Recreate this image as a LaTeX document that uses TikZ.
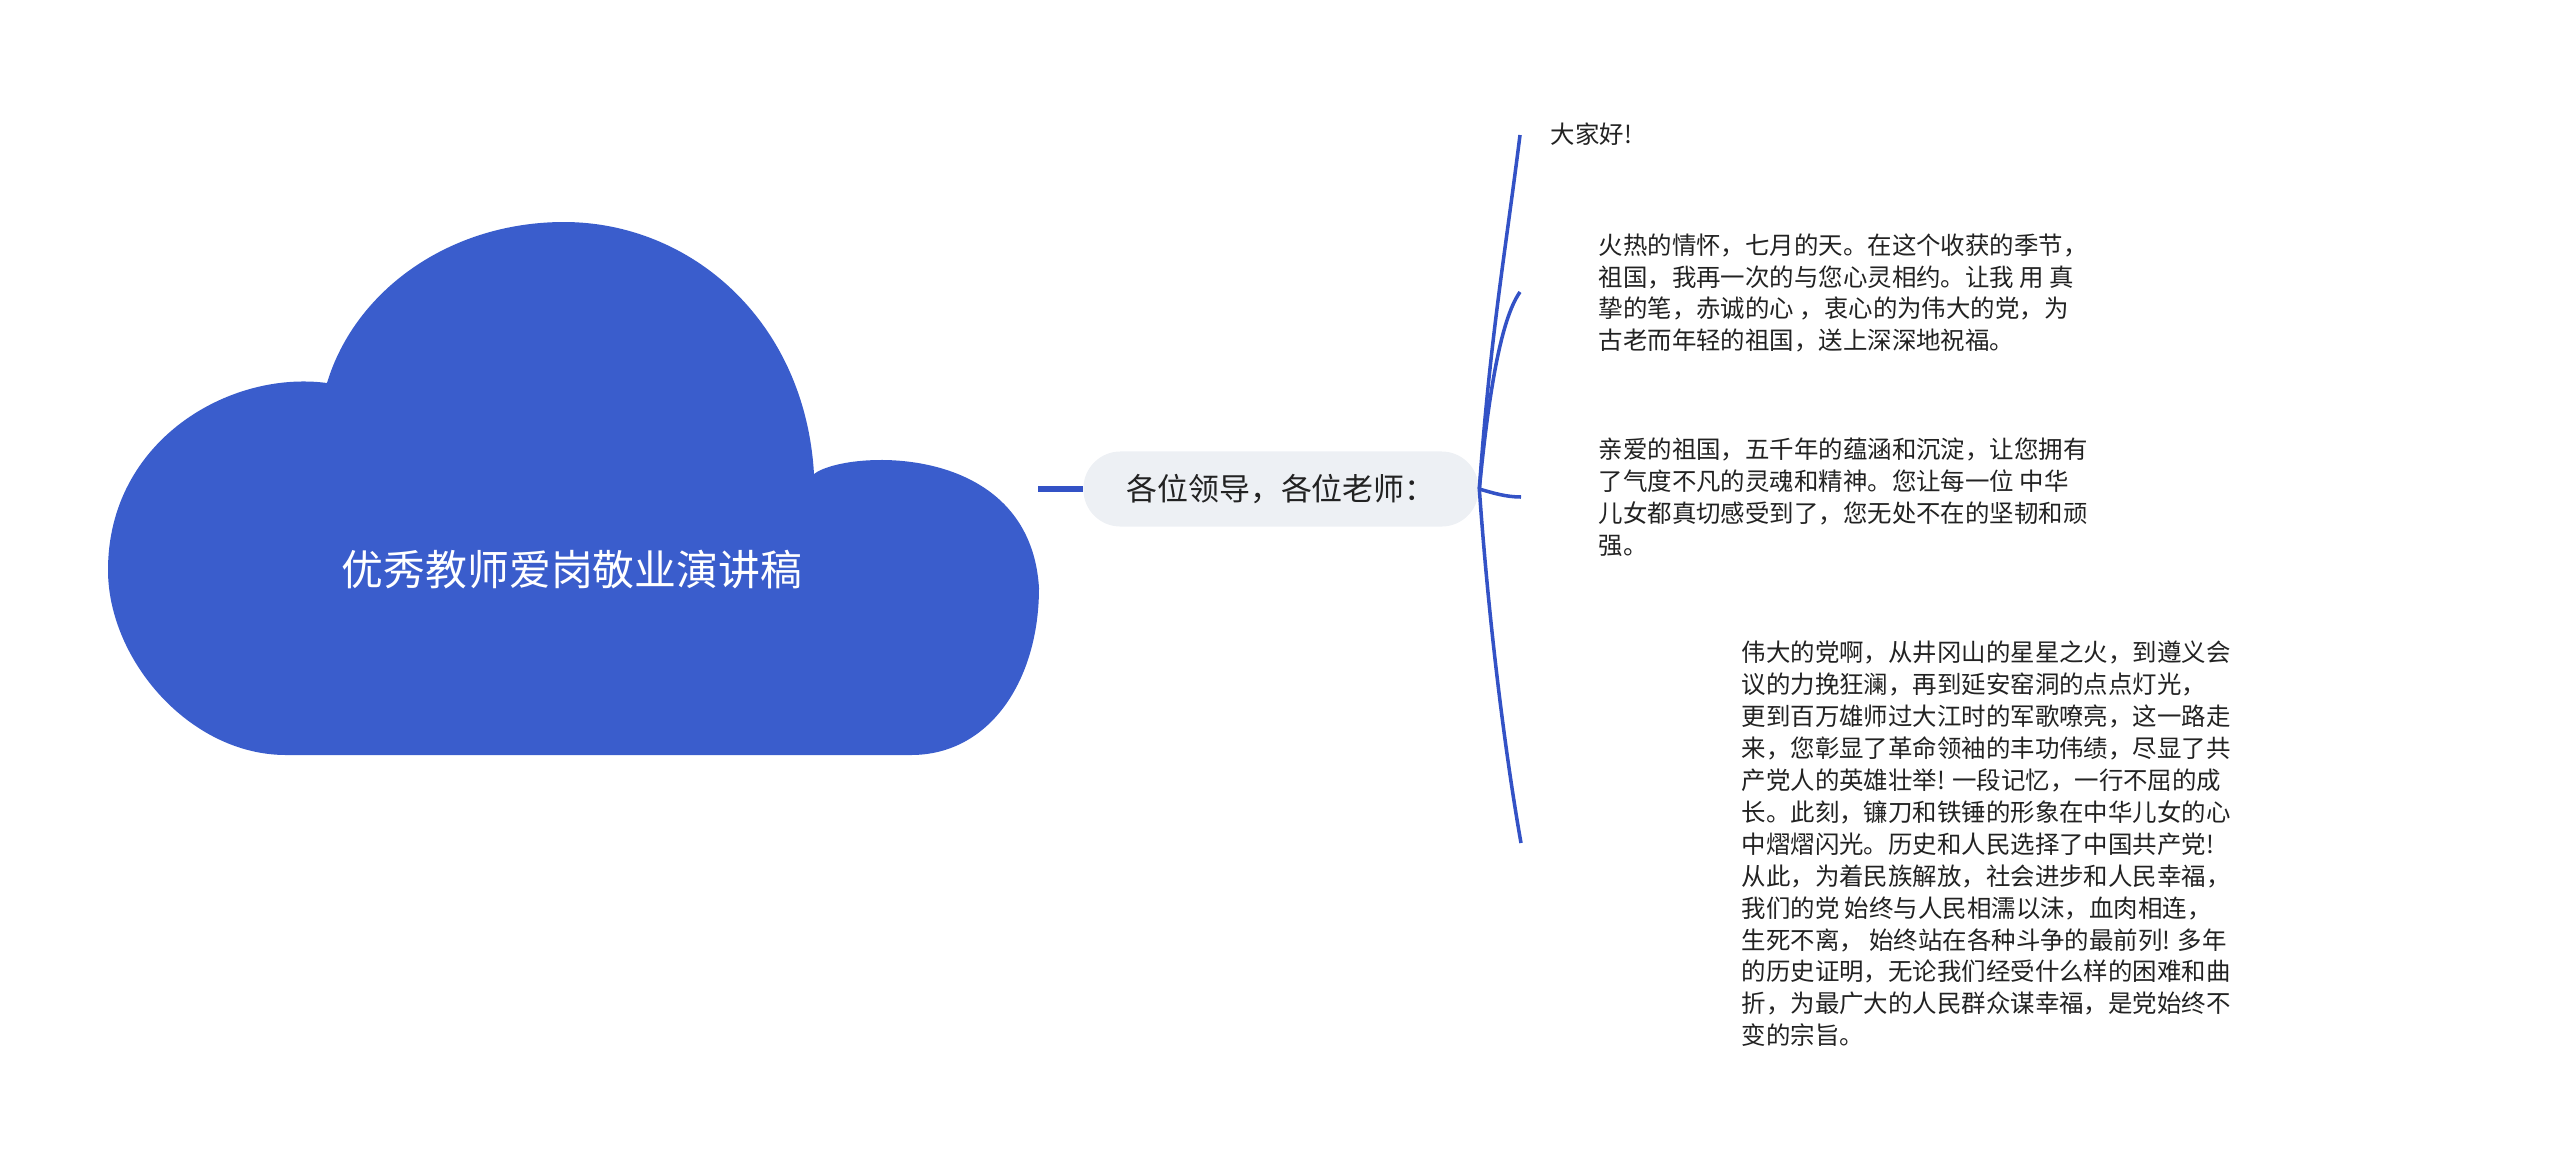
\documentclass[tikz,border=0pt]{standalone}
\usepackage{fontspec}
\newfontfamily\cjk{Noto Sans CJK SC}
\usetikzlibrary{positioning}
\definecolor{cloudblue}{HTML}{3A5DCC}
\definecolor{linkblue}{HTML}{3352C6}
\definecolor{pillgray}{HTML}{EDF0F4}
\definecolor{txt}{HTML}{222222}

\begin{document}
\begin{tikzpicture}[x=0.01cm, y=-0.01cm, every node/.style={font=\cjk},
  para/.style={anchor=west, inner sep=0pt, align=left, text=txt, font=\cjk\fontsize{6.95}{9.07}\selectfont},
  branch/.style={draw=linkblue, line width=1pt}]
\useasboundingbox (0,0) rectangle (2560,1169);
\fill[cloudblue] (327,383) .. controls (355,290) and (450,222) .. (564,222)
  .. controls (690,222) and (805,320) .. (814,474)
  .. controls (845,450) and (1030,440) .. (1039,588)
  .. controls (1039,680) and (990,755) .. (911,755) -- (286,755)
  .. controls (190,755) and (108,660) .. (108,570)
  .. controls (108,440) and (230,370) .. (327,383) -- cycle;
\node[text=white, font=\cjk\fontsize{11.9}{14}\selectfont] (title) at (572,570) {优秀教师爱岗敬业演讲稿};
\coordinate (cloudR) at (1038,489);
\node[fill=pillgray, rounded corners=0.37cm, minimum width=3.95cm, minimum height=0.75cm, text=txt, font=\cjk\fontsize{8.8}{10}\selectfont] (pill) at (1281,489) {各位领导，各位老师：};
\draw[draw=linkblue, line width=1.7pt] (cloudR)--(pill.west);
\node[para] (hello) at (1550,134) {大家好!};
\node[para] (p1) at (1598,293) {火热的情怀，七月的天。在这个收获的季节，\\祖国，我再一次的与您心灵相约。让我 用 真\\挚的笔，赤诚的心 ，衷心的为伟大的党，为\\古老而年轻的祖国，送上深深地祝福。};
\node[para] (p2) at (1598,497) {亲爱的祖国，五千年的蕴涵和沉淀，让您拥有\\了气度不凡的灵魂和精神。您让每一位 中华\\儿女都真切感受到了，您无处不在的坚韧和顽\\强。};
\node[para] (p3) at (1741,844) {伟大的党啊，从井冈山的星星之火，到遵义会\\议的力挽狂澜，再到延安窑洞的点点灯光，\\更到百万雄师过大江时的军歌嘹亮，这一路走\\来，您彰显了革命领袖的丰功伟绩，尽显了共\\产党人的英雄壮举! 一段记忆，一行不屈的成\\长。此刻，镰刀和铁锤的形象在中华儿女的心\\中熠熠闪光。历史和人民选择了中国共产党!\\从此，为着民族解放，社会进步和人民幸福，\\我们的党 始终与人民相濡以沫，血肉相连，\\生死不离， 始终站在各种斗争的最前列! 多年\\的历史证明，无论我们经受什么样的困难和曲\\折，为最广大的人民群众谋幸福，是党始终不\\变的宗旨。};
\coordinate (e1) at (1520,135);
\coordinate (e2) at (1520,292);
\coordinate (e3) at (1521,497);
\coordinate (e4) at (1521,843);
\draw[branch] (pill.east) .. controls (1490,338) and (1505,255) .. (e1);
\draw[branch] (pill.east) .. controls (1488,400) and (1500,320) .. (e2);
\draw[branch] (pill.east) .. controls (1493,493) and (1506,497) .. (e3);
\draw[branch] (pill.east) .. controls (1490,640) and (1508,770) .. (e4);
\end{tikzpicture}
\end{document}
